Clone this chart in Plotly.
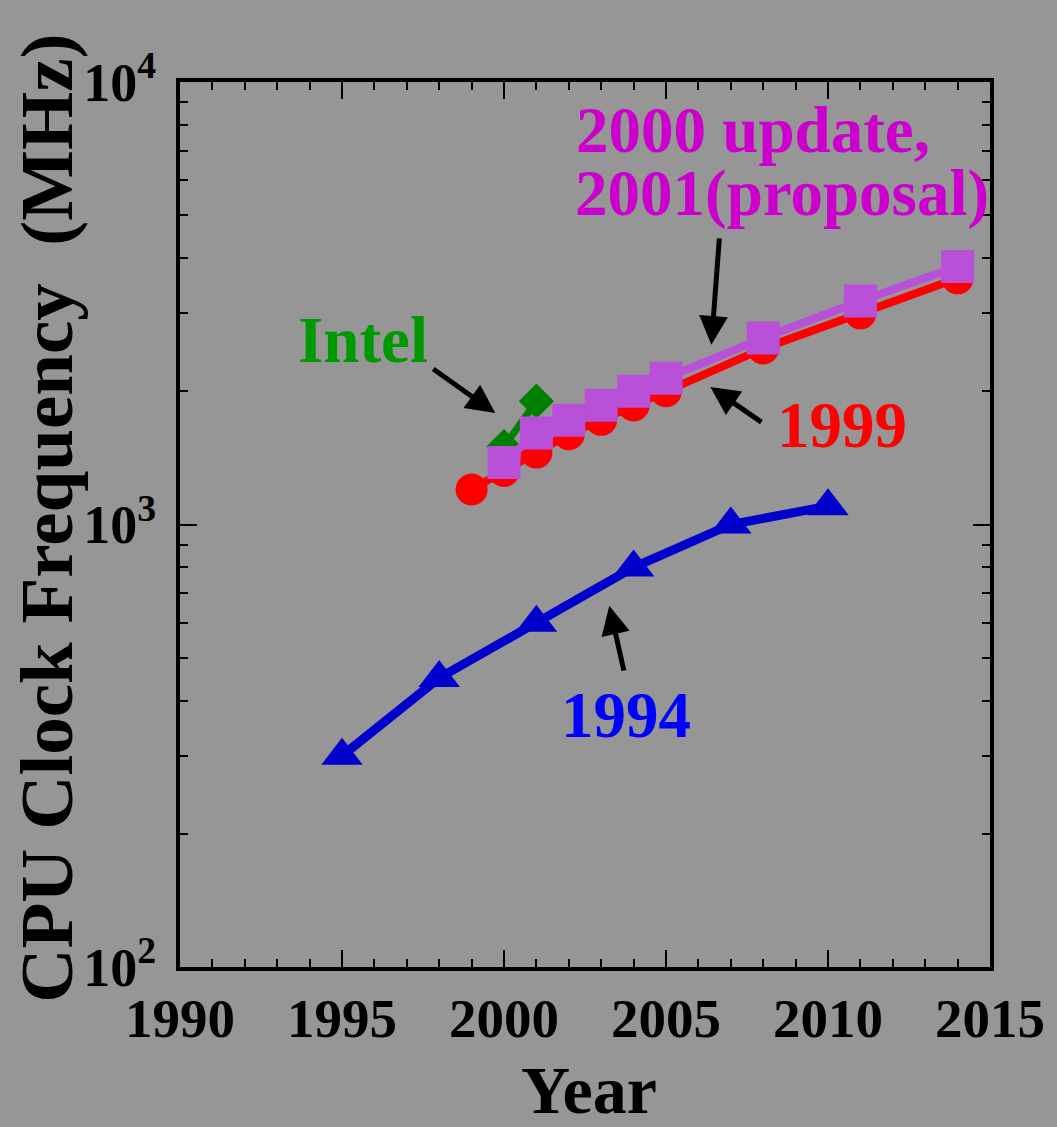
import numpy as np
import plotly.graph_objects as go

# Roadmap / product clock frequencies (MHz)
years_1994 = [1995, 1998, 2001, 2004, 2007, 2010]
mhz_1994 = [300, 450, 600, 800, 1000, 1100]

years_1999 = [1999, 2000, 2001, 2002, 2003, 2004, 2005, 2008, 2011, 2014]
mhz_1999 = [1200, 1321, 1454, 1600, 1724, 1857, 2000, 2500, 3000, 3600]

years_intel = [2000, 2001]
mhz_intel = [1500, 1900]

years_2000 = [2000, 2001, 2002, 2003, 2004, 2005, 2008, 2011, 2014]
mhz_2000 = [1380, 1610, 1720, 1860, 2000, 2140, 2640, 3200, 3830]

x_ticks = [1990, 1995, 2000, 2005, 2010, 2015]
y_ticks = [100, 1000, 10000]
y_ticktext = ["10<sup>2</sup>", "10<sup>3</sup>", "10<sup>4</sup>"]

BG = "#969696"
FONT = "Liberation Serif"

fig = go.Figure()

fig.add_trace(go.Scatter(
    x=years_1994, y=mhz_1994, mode="lines+markers",
    line=dict(color="#0000CC", width=9),
    marker=dict(symbol="triangle-up", size=36, color="#0000CC"),
))
fig.add_trace(go.Scatter(
    x=years_1999, y=mhz_1999, mode="lines+markers",
    line=dict(color="#FF0000", width=8),
    marker=dict(symbol="circle", size=32, color="#FF0000"),
))
fig.add_trace(go.Scatter(
    x=years_intel, y=mhz_intel, mode="lines+markers",
    line=dict(color="#008000", width=7),
    marker=dict(symbol="diamond", size=27, color="#008000"),
))
fig.add_trace(go.Scatter(
    x=years_2000, y=mhz_2000, mode="lines+markers",
    line=dict(color="#B850D8", width=8),
    marker=dict(symbol="square", size=33, color="#B850D8"),
))

lab_font = dict(family=FONT, size=65, weight="bold")

labels = [
    ("Intel", 1995.65, 2612, "#009900"),
    ("2000 update,", 2007.68, 7800, "#CC00CC"),
    ("2001(proposal)", 2008.58, 5620, "#CC00CC"),
    ("1999", 2010.42, 1680, "#FF0000"),
    ("1994", 2003.78, 372, "#0000FF"),
]
for text, xv, yv, col in labels:
    fig.add_annotation(
        x=xv, y=np.log10(yv), text=text, showarrow=False,
        xanchor="center", yanchor="middle",
        font=dict(lab_font, color=col),
    )

# arrows: (tail year, tail MHz, tip year, tip MHz)
arrows = [
    (1997.77, 2259, 1999.73, 1786),
    (2006.65, 4467, 2006.40, 2547),
    (2007.99, 1694, 2006.37, 2046),
    (2003.71, 464, 2003.25, 655),
]
for tx, ty, hx, hy in arrows:
    fig.add_annotation(
        x=hx, y=np.log10(hy), ax=tx, ay=np.log10(ty),
        xref="x", yref="y", axref="x", ayref="y",
        text="", showarrow=True, arrowhead=2, arrowsize=1.15,
        arrowwidth=5, arrowcolor="black", standoff=0, startstandoff=0,
    )

# axis titles
fig.add_annotation(
    x=-0.165, y=0.507, xref="paper", yref="paper",
    text="CPU Clock Frequency\u00a0\u00a0(MHz)", showarrow=False, textangle=-90,
    xanchor="center", yanchor="middle",
    font=dict(family=FONT, size=75, weight="bold", color="black"),
)
fig.add_annotation(
    x=0.5055, y=-0.1395, xref="paper", yref="paper",
    text="Year", showarrow=False, xanchor="center", yanchor="middle",
    font=dict(family=FONT, size=68, weight="bold", color="black"),
)

axis_common = dict(
    showline=True, linewidth=4, linecolor="black", mirror="allticks",
    ticks="inside", tickcolor="black", tickwidth=1.5, ticklen=17,
    showgrid=False, zeroline=False,
)

fig.update_xaxes(
    range=[1990, 2015], tickvals=x_ticks,
    tickfont=dict(family=FONT, size=55, weight="bold", color="black"),
    ticklabelstandoff=0,
    minor=dict(ticks="inside", ticklen=8, tickwidth=1.5, tickcolor="black", dtick=1, showgrid=False),
    **axis_common,
)
fig.update_yaxes(
    type="log", range=[2, 4], tickvals=y_ticks, ticktext=y_ticktext,
    tickfont=dict(family=FONT, size=54, weight="bold", color="black"),
    ticklabelstandoff=9,
    minor=dict(ticks="inside", ticklen=8, tickwidth=1.5, tickcolor="black", dtick="D1", showgrid=False),
    **axis_common,
)

fig.update_layout(
    width=1057, height=1127,
    margin=dict(l=180, r=60, t=82, b=160),
    paper_bgcolor=BG, plot_bgcolor=BG,
    showlegend=False,
)

fig.write_html("out.html")
